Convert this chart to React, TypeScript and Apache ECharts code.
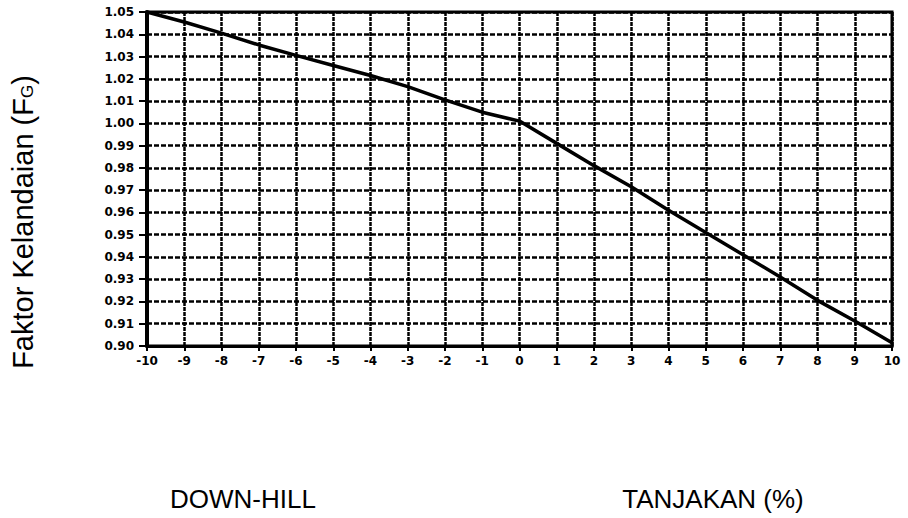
import React, { useEffect, useRef } from "react";
import * as echarts from "echarts";

// Gradient (%) on the x axis
const gradeValues: number[] = [-10, -9, -8, -7, -6, -5, -4, -3, -2, -1, 0, 1, 2, 3, 4, 5, 6, 7, 8, 9, 10];
// Grade factor F_G
const factorValues: number[] = [
  1.05, 1.0455, 1.0405, 1.0352, 1.0305, 1.026, 1.0215, 1.0165, 1.0105, 1.005, 1.001,
  0.991, 0.981, 0.9715, 0.961, 0.951, 0.941, 0.931, 0.9205, 0.9112, 0.9015,
];
const yTickLabels: string[] = ["0.90", "0.91", "0.92", "0.93", "0.94", "0.95", "0.96", "0.97", "0.98", "0.99", "1.00", "1.01", "1.02", "1.03", "1.04", "1.05"];
const yTitle = "Faktor Kelandaian (F";
const yTitleSub = "G";
const leftCaption = "DOWN-HILL";
const rightCaption = "TANJAKAN (%)";

export default function App() {
  const ref = useRef<HTMLDivElement>(null);
  useEffect(() => {
    if (!ref.current) return;
    const chart = echarts.init(ref.current, null, { renderer: "svg" });
    const seriesData = gradeValues.map((g, i) => [g, factorValues[i]]);
    chart.setOption({
      animation: false,
      backgroundColor: "#ffffff",
      grid: {
        left: 147,
        right: 16,
        top: 12,
        bottom: 172,
        show: true,
        borderColor: "#000",
        borderWidth: 3,
        backgroundColor: "transparent",
      },
      xAxis: {
        type: "value",
        min: -10,
        max: 10,
        interval: 1,
        axisLine: { show: true, onZero: false, lineStyle: { color: "#000", width: 3 } },
        axisTick: { show: true, length: 5, lineStyle: { color: "#000", width: 2 } },
        axisLabel: {
          margin: 9,
          color: "#000",
          fontFamily: "DejaVu Sans",
          fontWeight: "bold",
          fontSize: 12,
          formatter: (v: number) => String(Math.round(v)),
        },
        splitLine: { show: true, lineStyle: { color: "#000", width: 2.5, type: [4, 1] } },
      },
      yAxis: {
        type: "value",
        min: 0.9,
        max: 1.05,
        interval: 0.01,
        axisLine: { show: true, onZero: false, lineStyle: { color: "#000", width: 4 } },
        axisTick: { show: true, length: 8, lineStyle: { color: "#000", width: 2 } },
        axisLabel: {
          margin: 13,
          color: "#000",
          fontFamily: "DejaVu Sans",
          fontWeight: "bold",
          fontSize: 12,
          formatter: (v: number) => {
            const idx = Math.round((v - 0.9) / 0.01);
            return yTickLabels[idx] ?? v.toFixed(2);
          },
        },
        splitLine: { show: true, lineStyle: { color: "#000", width: 2.5, type: [5, 2] } },
      },
      series: [
        {
          type: "line",
          data: seriesData,
          showSymbol: false,
          smooth: false,
          lineStyle: { color: "#000", width: 3.5 },
          z: 5,
        },
      ],
      graphic: [
        {
          type: "text",
          x: 23,
          y: 222,
          rotation: Math.PI / 2,
          style: {
            text: yTitle + "{sub|" + yTitleSub + "})",
            fontFamily: "Liberation Sans",
            fontSize: 29,
            fill: "#000",
            align: "center",
            verticalAlign: "middle",
            rich: {
              sub: { fontSize: 17, fontFamily: "Liberation Sans", fill: "#000", verticalAlign: "bottom", padding: [0, 0, 2, 0] },
            },
          },
        },
        {
          type: "text",
          x: 243,
          y: 499,
          style: {
            text: leftCaption,
            fontFamily: "Liberation Sans",
            fontSize: 26,
            fill: "#000",
            align: "center",
            verticalAlign: "middle",
          },
        },
        {
          type: "text",
          x: 713,
          y: 499,
          style: {
            text: rightCaption,
            fontFamily: "Liberation Sans",
            fontSize: 26,
            fill: "#000",
            align: "center",
            verticalAlign: "middle",
          },
        },
      ],
    });
    return () => chart.dispose();
  }, []);
  return <div ref={ref} style={{ position: "fixed", left: 0, top: 0, width: 908, height: 518 }} />;
}
